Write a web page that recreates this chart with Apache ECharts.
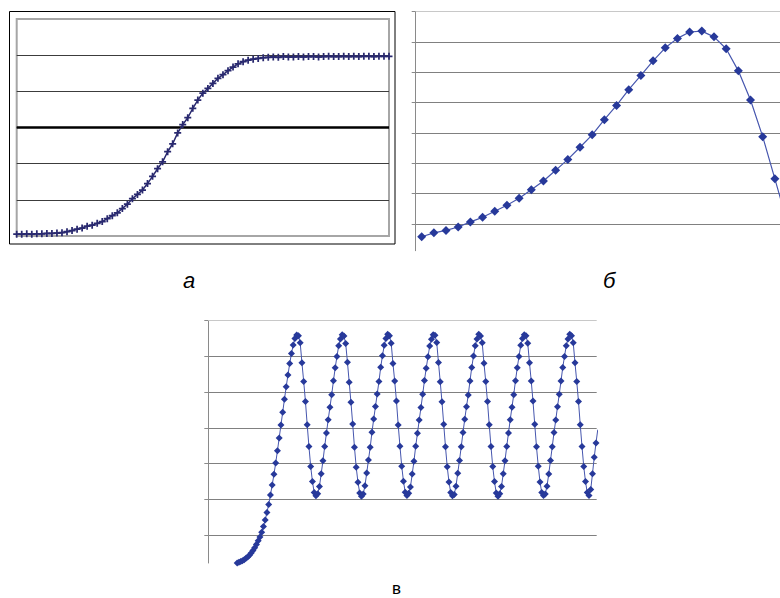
<!DOCTYPE html>
<html><head><meta charset="utf-8">
<script src="https://cdn.jsdelivr.net/npm/echarts@6/dist/echarts.min.js"></script>
<style>html,body{margin:0;padding:0;background:#fff}#c{width:780px;height:598px}</style>
</head><body><div id="c"></div>
<script>
// Panel labels
const panelLabels = ['а', 'б', 'в'];

// Panel а: sigmoid (one value per sample index)
const sigmoidValues = [
  0.05,0.05,0.06,0.05,0.06,0.06,0.07,0.07,0.08,0.09,
  0.12,0.15,0.19,0.22,0.27,0.30,0.35,0.40,0.48,0.56,
  0.64,0.76,0.88,1.03,1.15,1.27,1.45,1.65,1.86,2.05,
  2.33,2.55,2.85,3.08,3.27,3.53,3.76,3.95,4.08,4.22,
  4.36,4.46,4.57,4.67,4.76,4.82,4.86,4.89,4.91,4.93,
  4.94,4.95,4.94,4.96,4.95,4.95,4.96,4.95,4.96,4.96,
  4.95,4.96,4.97,4.96,4.96,4.97,4.96,4.97,4.96,4.97,
  4.97,4.96,4.97,4.97,4.97
];

// Panel б: single peak curve
const peakValues = [
  0.58,0.71,0.79,0.90,1.07,1.22,1.42,1.62,1.85,2.13,
  2.42,2.77,3.13,3.53,3.94,4.44,4.91,5.43,5.90,6.38,
  6.81,7.12,7.33,7.36,7.17,6.78,6.05,5.09,3.88,2.49,
  1.07
];

// Panel в: rise then oscillation
const waveValues = [
  0.22,0.24,0.26,0.28,0.31,0.35,0.39,0.44,0.50,0.57,
  0.65,0.74,0.84,0.95,1.08,1.24,1.42,1.63,1.86,2.12,
  2.40,2.70,3.02,3.36,3.72,4.08,4.44,4.80,5.15,5.48,
  5.80,6.08,6.32,6.50,6.60,
  6.58,6.38,5.82,5.30,4.74,4.09,3.48,2.92,2.50,2.19,2.10,2.16,2.36,2.72,3.08,3.48,3.86,4.23,4.58,4.93,5.32,5.68,6.00,6.30,6.49,6.61,
  6.57,6.36,5.84,5.28,4.72,4.11,3.46,2.90,2.48,2.18,2.09,2.15,2.38,2.74,3.10,3.46,3.88,4.25,4.60,4.95,5.30,5.70,6.02,6.31,6.50,6.62,
  6.58,6.37,5.80,5.31,4.75,4.08,3.49,2.93,2.51,2.20,2.11,2.17,2.35,2.71,3.07,3.49,3.85,4.22,4.57,4.94,5.33,5.67,5.99,6.29,6.48,6.61,
  6.59,6.39,5.83,5.29,4.73,4.10,3.47,2.91,2.49,2.19,2.10,2.14,2.37,2.73,3.09,3.47,3.87,4.24,4.59,4.92,5.31,5.69,6.01,6.30,6.49,6.62,
  6.57,6.38,5.81,5.30,4.74,4.09,3.48,2.92,2.50,2.18,2.09,2.16,2.36,2.72,3.08,3.48,3.86,4.23,4.58,4.93,5.32,5.68,6.00,6.31,6.50,6.61,
  6.58,6.37,5.82,5.31,4.75,4.10,3.47,2.93,2.49,2.19,2.11,2.15,2.37,2.71,3.09,3.47,3.87,4.22,4.59,4.94,5.31,5.69,6.00,6.30,6.49,6.62,
  6.58,6.38,5.82,5.30,4.74,4.09,3.48,2.92,2.50,2.19,2.11,2.28,2.72,3.18,3.58,3.95
];

// Tick values for the y axes
const ticksA = [0,1,2,3,4,5,6];
const ticksB = [1,2,3,4,5,6,7,8];
const ticksC = [1,2,3,4,5,6,7];

const toPairs = arr => arr.map((v, i) => [i, v]);

const navy = '#29296f';
const blue = '#27399a';
const blueLine = '#4656ae';
const plusPath = 'path://M3,0h2v3h3v2h-3v3h-2v-3h-3v-2h3z';

const chart = echarts.init(document.getElementById('c'), null, {renderer: 'svg'});
chart.setOption({
  animation: false,
  backgroundColor: '#fff',
  grid: [
    {left: 16.7, top: 19, width: 372.3, height: 217, show: true, borderColor: '#a6a6a6', borderWidth: 2, backgroundColor: '#fff'},
    {left: 415.7, top: 11.7, right: 0, height: 239},
    {left: 208.3, top: 320.7, width: 388.4, height: 242.3}
  ],
  xAxis: [
    {gridIndex: 0, type: 'value', min: 0, max: sigmoidValues.length - 1, show: false},
    {gridIndex: 1, type: 'value', min: -0.49, max: 29.42, show: false},
    {gridIndex: 2, type: 'value', min: -16.5, max: 205.4, show: false}
  ],
  yAxis: [
    {gridIndex: 0, type: 'value', min: ticksA[0], max: ticksA[ticksA.length-1], interval: 1,
     axisLine: {show: false}, axisTick: {show: false}, axisLabel: {show: false},
     splitLine: {show: true, showMinLine: false, showMaxLine: false, lineStyle: {color: '#3c3c3c', width: 1}}},
    {gridIndex: 1, type: 'value', min: 0.12, max: ticksB[ticksB.length-1], splitNumber: 8,
     axisLine: {show: true, onZero: false, lineStyle: {color: '#8a8a8a', width: 1}},
     axisTick: {show: true, inside: false, length: 4, customValues: ticksB, lineStyle: {color: '#8a8a8a'}},
     axisLabel: {show: false},
     splitLine: {show: true, showMaxLine: false, lineStyle: {color: '#808080', width: 1}}},
    {gridIndex: 2, type: 'value', min: 0.22, max: ticksC[ticksC.length-1], splitNumber: 7,
     axisLine: {show: true, onZero: false, lineStyle: {color: '#8a8a8a', width: 1}},
     axisTick: {show: true, inside: false, length: 4, customValues: ticksC, lineStyle: {color: '#8a8a8a'}},
     axisLabel: {show: false},
     splitLine: {show: true, showMaxLine: false, lineStyle: {color: '#808080', width: 1}}}
  ],
  graphic: [
    {type: 'rect', shape: {x: 9.5, y: 11.5, width: 385.5, height: 232.5}, style: {fill: 'none', stroke: '#000', lineWidth: 1}, silent: true},
    {type: 'text', left: 183, top: 269, style: {text: panelLabels[0], font: 'italic 22px "Liberation Sans", Arial, sans-serif', fill: '#000'}},
    {type: 'text', left: 603, top: 269, style: {text: panelLabels[1], font: 'italic 22px "Liberation Sans", Arial, sans-serif', fill: '#000'}},
    {type: 'text', left: 392, top: 580, style: {text: panelLabels[2], font: '17px "Liberation Sans", Arial, sans-serif', fill: '#000'}}
  ],
  series: [
    {type: 'line', xAxisIndex: 0, yAxisIndex: 0, data: toPairs(sigmoidValues),
     symbol: plusPath, symbolSize: 7, showAllSymbol: true,
     lineStyle: {color: navy, width: 1.5}, itemStyle: {color: navy}, z: 3,
     markLine: {silent: true, symbol: 'none', z: 1, label: {show: false},
       lineStyle: {color: '#000', width: 2.5, type: 'solid'}, data: [{yAxis: ticksA[3]}]}},
    {type: 'line', xAxisIndex: 1, yAxisIndex: 1, data: toPairs(peakValues),
     symbol: 'diamond', symbolSize: 9, showAllSymbol: true,
     lineStyle: {color: blueLine, width: 1.2}, itemStyle: {color: blue}, z: 3,
     markLine: {silent: true, symbol: 'none', z: 1, label: {show: false},
       lineStyle: {color: '#c8c8c8', width: 1, type: 'solid'}, data: [{yAxis: ticksB[ticksB.length-1]}]}},
    {type: 'line', xAxisIndex: 2, yAxisIndex: 2, data: toPairs(waveValues),
     symbol: 'diamond', symbolSize: 7, showAllSymbol: true,
     lineStyle: {color: blueLine, width: 1}, itemStyle: {color: blue}, z: 3,
     markLine: {silent: true, symbol: 'none', z: 1, label: {show: false},
       lineStyle: {color: '#c8c8c8', width: 1, type: 'solid'}, data: [{yAxis: ticksC[ticksC.length-1]}]}}
  ]
});
</script>
</body></html>
